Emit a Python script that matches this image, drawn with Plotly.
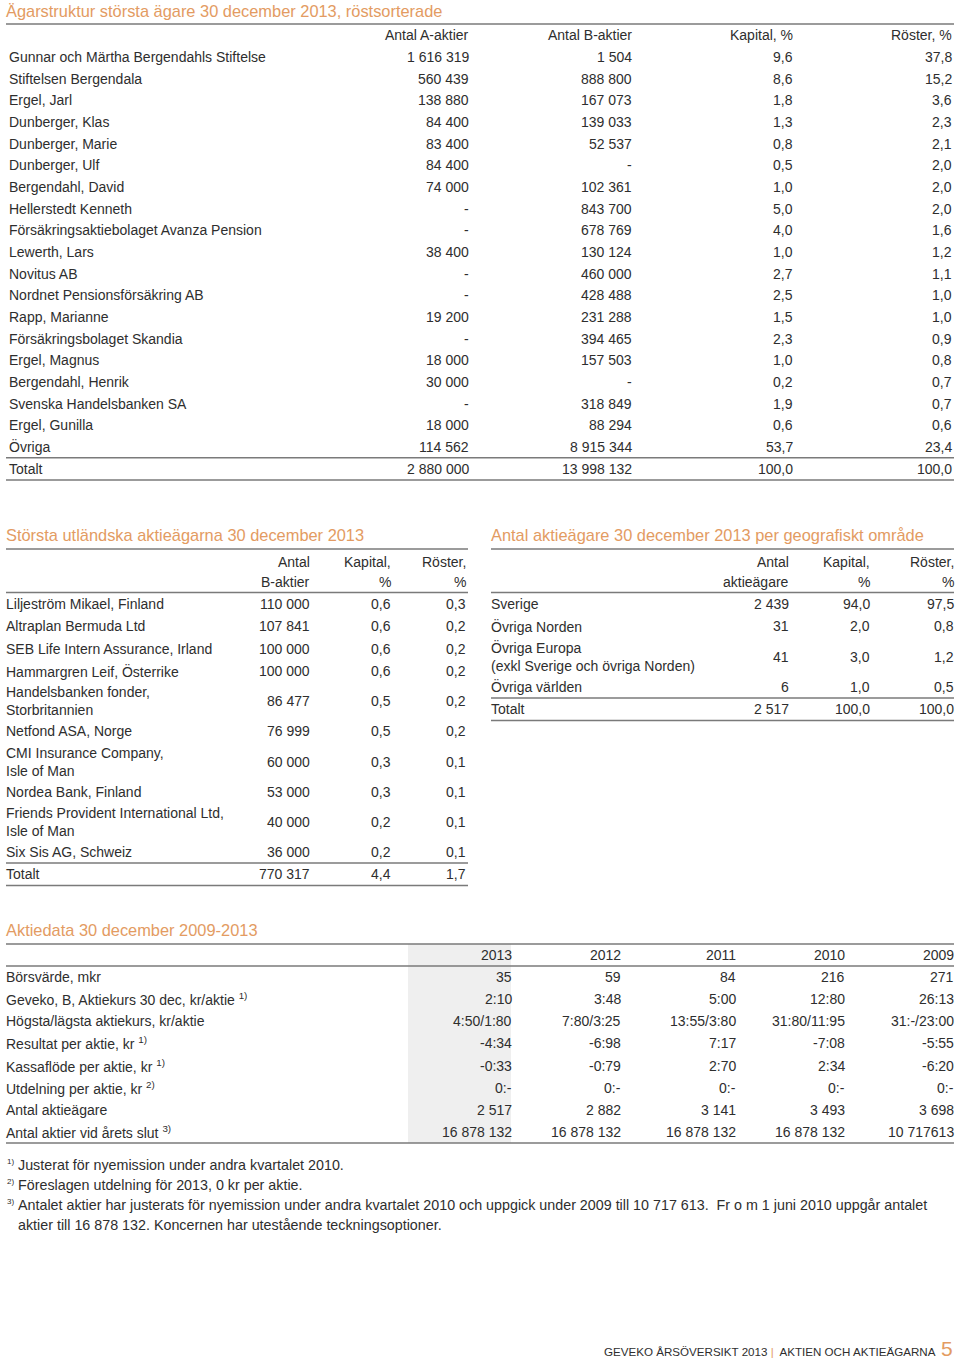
import plotly.graph_objects as go

# ---------------- DATA ----------------
# Table 1: Ägarstruktur största ägare 30 december 2013, röstsorterade
t1_title = "Ägarstruktur största ägare 30 december 2013, röstsorterade"
t1_headers = ["Antal A-aktier", "Antal B-aktier", "Kapital, %", "Röster, %"]
owner_names = [
    "Gunnar och Märtha Bergendahls Stiftelse", "Stiftelsen Bergendala", "Ergel, Jarl",
    "Dunberger, Klas", "Dunberger, Marie", "Dunberger, Ulf", "Bergendahl, David",
    "Hellerstedt Kenneth", "Försäkringsaktiebolaget Avanza Pension", "Lewerth, Lars",
    "Novitus AB", "Nordnet Pensionsförsäkring AB", "Rapp, Marianne",
    "Försäkringsbolaget Skandia", "Ergel, Magnus", "Bergendahl, Henrik",
    "Svenska Handelsbanken SA", "Ergel, Gunilla", "Övriga",
]
owner_a = [1616319, 560439, 138880, 84400, 83400, 84400, 74000, None, None, 38400,
           None, None, 19200, None, 18000, 30000, None, 18000, 114562]
owner_b = [1504, 888800, 167073, 139033, 52537, None, 102361, 843700, 678769, 130124,
           460000, 428488, 231288, 394465, 157503, None, 318849, 88294, 8915344]
owner_cap = [9.6, 8.6, 1.8, 1.3, 0.8, 0.5, 1.0, 5.0, 4.0, 1.0, 2.7, 2.5, 1.5, 2.3,
             1.0, 0.2, 1.9, 0.6, 53.7]
owner_votes = [37.8, 15.2, 3.6, 2.3, 2.1, 2.0, 2.0, 2.0, 1.6, 1.2, 1.1, 1.0, 1.0, 0.9,
               0.8, 0.7, 0.7, 0.6, 23.4]
owner_total = [2880000, 13998132, 100.0, 100.0]

# Table 2: Största utländska aktieägarna 30 december 2013
t2_title = "Största utländska aktieägarna 30 december 2013"
t2_headers = [("Antal", "B-aktier"), ("Kapital,", "%"), ("Röster,", "%")]
foreign_names = [
    "Liljeström Mikael, Finland", "Altraplan Bermuda Ltd", "SEB Life Intern Assurance, Irland",
    "Hammargren Leif, Österrike", "Handelsbanken fonder,<br>Storbritannien",
    "Netfond ASA, Norge", "CMI Insurance Company,<br>Isle of Man", "Nordea Bank, Finland",
    "Friends Provident International Ltd,<br>Isle of Man", "Six Sis AG, Schweiz",
]
foreign_b = [110000, 107841, 100000, 100000, 86477, 76999, 60000, 53000, 40000, 36000]
foreign_cap = [0.6, 0.6, 0.6, 0.6, 0.5, 0.5, 0.3, 0.3, 0.2, 0.2]
foreign_votes = [0.3, 0.2, 0.2, 0.2, 0.2, 0.2, 0.1, 0.1, 0.1, 0.1]
foreign_total = [770317, 4.4, 1.7]

# Table 3: Antal aktieägare per geografiskt område
t3_title = "Antal aktieägare 30 december 2013 per geografiskt område"
t3_headers = [("Antal", "aktieägare"), ("Kapital,", "%"), ("Röster,", "%")]
geo_names = ["Sverige", "Övriga Norden", "Övriga Europa<br>(exkl Sverige och övriga Norden)",
             "Övriga världen"]
geo_count = [2439, 31, 41, 6]
geo_cap = [94.0, 2.0, 3.0, 1.0]
geo_votes = [97.5, 0.8, 1.2, 0.5]
geo_total = [2517, 100.0, 100.0]

# Table 4: Aktiedata 30 december 2009-2013
t4_title = "Aktiedata 30 december 2009-2013"
years = ["2013", "2012", "2011", "2010", "2009"]
data_labels = [
    "Börsvärde, mkr",
    "Geveko, B, Aktiekurs 30 dec, kr/aktie <sup>1)</sup>",
    "Högsta/lägsta aktiekurs, kr/aktie",
    "Resultat per aktie, kr <sup>1)</sup>",
    "Kassaflöde per aktie, kr <sup>1)</sup>",
    "Utdelning per aktie, kr <sup>2)</sup>",
    "Antal aktieägare",
    "Antal aktier vid årets slut <sup>3)</sup>",
]
borsvarde = ["35", "59", "84", "216", "271"]
aktiekurs = ["2:10", "3:48", "5:00", "12:80", "26:13"]
hogsta_lagsta = ["4:50/1:80", "7:80/3:25", "13:55/3:80", "31:80/11:95", "31:-/23:00"]
resultat = ["-4:34", "-6:98", "7:17", "-7:08", "-5:55"]
kassaflode = ["-0:33", "-0:79", "2:70", "2:34", "-6:20"]
utdelning = ["0:-", "0:-", "0:-", "0:-", "0:-"]
antal_agare = ["2 517", "2 882", "3 141", "3 493", "3 698"]
antal_aktier = ["16 878 132", "16 878 132", "16 878 132", "16 878 132", "10 717613"]

footnotes = [
    ("1)", "Justerat för nyemission under andra kvartalet 2010."),
    ("2)", "Föreslagen utdelning för 2013, 0 kr per aktie."),
    ("3)", "Antalet aktier har justerats för nyemission under andra kvartalet 2010 och uppgick under 2009 till 10 717 613.  Fr o m 1 juni 2010 uppgår antalet"),
    ("", "aktier till 16 878 132. Koncernen har utestående teckningsoptioner."),
]
footer_left = "GEVEKO ÅRSÖVERSIKT 2013"
footer_right = "AKTIEN OCH AKTIEÄGARNA"
page_no = "5"

# ---------------- STYLE ----------------
FONT = "Liberation Sans, Arial, sans-serif"
TXT = "#2e2e2e"
ORANGE = "#E39B62"
LINE = "#7a7a7a"
FS = 14


def fint(v):
    return "-" if v is None else f"{v:,}".replace(",", " ")


def fdec(v):
    return f"{v:.1f}".replace(".", ",")


annotations = []
shapes = []


def txt(x, y, s, anchor="left", size=FS, color=TXT, font=FONT):
    xs = 1 if anchor == "right" else (-1 if anchor == "left" else 0)
    annotations.append(dict(
        x=x, y=y, xref="x", yref="y", text=s, showarrow=False, xshift=xs,
        xanchor=anchor, yanchor="middle", align=anchor if anchor != "center" else "center",
        font=dict(family=font, size=size, color=color), borderpad=0,
    ))


def hline(x0, x1, y, width=1.5, color=LINE):
    shapes.append(dict(type="line", xref="x", yref="y", x0=x0, x1=x1, y0=y, y1=y,
                       line=dict(color=color, width=width), layer="above"))


# ---------------- TABLE 1 ----------------
L, R = 6, 954
txt(6, 11, t1_title, size=16.4, color=ORANGE)
hline(L, R, 24)
col_r = [469, 632, 793, 952]
for cx, h in zip(col_r, t1_headers):
    txt(cx, 35, h, anchor="right")
row_h = 21.67
y0 = 46
for i, name in enumerate(owner_names):
    yc = y0 + row_h * (i + 0.5)
    txt(9, yc, name)
    vals = [fint(owner_a[i]), fint(owner_b[i]), fdec(owner_cap[i]), fdec(owner_votes[i])]
    for cx, v in zip(col_r, vals):
        txt(cx, yc, v, anchor="right")
ytot = y0 + row_h * len(owner_names)
hline(L, R, ytot)
tvals = [fint(owner_total[0]), fint(owner_total[1]), fdec(owner_total[2]), fdec(owner_total[3])]
txt(9, ytot + row_h / 2, "Totalt")
for cx, v in zip(col_r, tvals):
    txt(cx, ytot + row_h / 2, v, anchor="right")
hline(L, R, ytot + row_h + 0.5)


# ---------------- TABLES 2 & 3 ----------------
def small_table(xl, xr, cols, title, headers, names, c1, c2, c3, total, lab_x):
    txt(xl, 535, title, size=16.4, color=ORANGE)
    hline(xl, xr, 549)
    for cx, (h1, h2) in zip(cols, headers):
        txt(cx, 562, h1, anchor="right")
        txt(cx, 582, h2, anchor="right")
    hline(xl, xr, 592.5)
    y = 593
    for i, name in enumerate(names):
        h = 38 if "<br>" in name else 22.3
        yc = y + h / 2
        txt(lab_x, yc, name)
        for cx, v in zip(cols, [fint(c1[i]), fdec(c2[i]), fdec(c3[i])]):
            txt(cx, yc, v, anchor="right")
        y += h
    hline(xl, xr, y)
    yc = y + 11.2
    txt(lab_x, yc, "Totalt")
    for cx, v in zip(cols, [fint(total[0]), fdec(total[1]), fdec(total[2])]):
        txt(cx, yc, v, anchor="right")
    hline(xl, xr, y + 22.5)


small_table(6, 468, [310, 391, 466], t2_title, t2_headers, foreign_names,
            foreign_b, foreign_cap, foreign_votes, foreign_total, 6)
small_table(491, 954, [789, 870, 954], t3_title, t3_headers, geo_names,
            geo_count, geo_cap, geo_votes, geo_total, 491)

# ---------------- TABLE 4 ----------------
txt(6, 930, t4_title, size=16.4, color=ORANGE)
shapes.append(dict(type="rect", xref="x", yref="y", x0=408, x1=511, y0=944, y1=1143,
                   fillcolor="#efefef", line=dict(width=0), layer="below"))
hline(6, 954, 944)
ycols = [512, 621, 736, 845, 954]
for cx, yr in zip(ycols, years):
    txt(cx, 955, yr, anchor="right")
hline(6, 954, 966)
rows4 = [borsvarde, aktiekurs, hogsta_lagsta, resultat, kassaflode, utdelning,
         antal_agare, antal_aktier]
rh4 = 22.14
for i, (lab, vals) in enumerate(zip(data_labels, rows4)):
    yc = 966 + rh4 * (i + 0.5)
    txt(6, yc, lab)
    for cx, v in zip(ycols, vals):
        txt(cx, yc, v, anchor="right")
hline(6, 954, 966 + rh4 * len(rows4))

# ---------------- FOOTNOTES ----------------
for i, (mark, note) in enumerate(footnotes):
    yc = 1165 + 20 * i
    if mark:
        txt(7, yc - 4, mark, size=8)
    txt(18, yc, note, size=14.3)

# ---------------- FOOTER ----------------
txt(936, 1351,
    f"{footer_left} <span style='color:{ORANGE}'>|</span>  {footer_right}",
    anchor="right", size=11.6)
txt(941, 1348, page_no, size=21, color=ORANGE)

fig = go.Figure()
fig.update_layout(
    width=960, height=1360, margin=dict(l=0, r=0, t=0, b=0),
    paper_bgcolor="white", plot_bgcolor="white",
    xaxis=dict(range=[0, 960], visible=False, fixedrange=True),
    yaxis=dict(range=[1360, 0], visible=False, fixedrange=True),
    annotations=annotations, shapes=shapes, showlegend=False,
)
fig.write_html("out.html", config={"displayModeBar": False},
               post_script="document.body.style.margin='0';")
